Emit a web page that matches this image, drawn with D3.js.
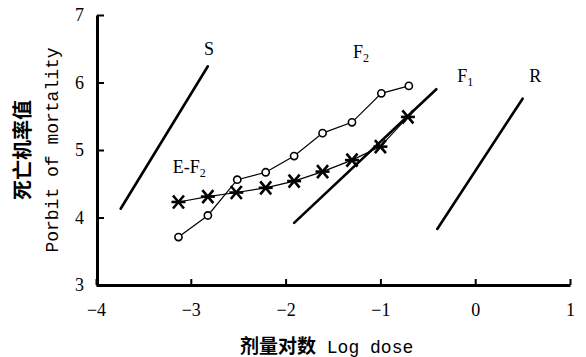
<!DOCTYPE html>
<html><head><meta charset="utf-8">
<script src="https://cdn.jsdelivr.net/npm/d3@7"></script>
<style>body{margin:0;background:#fff}svg{display:block}</style>
</head><body><svg id="c" width="586" height="357"></svg>
<script>
// Data
const xTicks = [-4, -3, -2, -1, 0, 1];
const yTicks = [3, 4, 5, 6, 7];
const circleX = [-3.13, -2.82, -2.51, -2.21, -1.91, -1.61, -1.30, -0.99, -0.70];
const circleY = [3.71, 4.03, 4.56, 4.67, 4.91, 5.25, 5.41, 5.84, 5.95];
const starX = [-3.13, -2.82, -2.52, -2.21, -1.91, -1.61, -1.30, -1.00, -0.71];
const starY = [4.23, 4.31, 4.37, 4.44, 4.54, 4.68, 4.85, 5.05, 5.49];
const lineNames = ["S", "F1", "R"];
const lineX0 = [-3.74, -1.91, -0.40];
const lineY0 = [4.13, 3.92, 3.83];
const lineX1 = [-2.82, -0.41, 0.50];
const lineY1 = [6.24, 5.90, 5.76];
const labelText = ["S", "F", "F", "R", "E-F"];
const labelSub = ["", "2", "1", "", "2"];
const labelX = [-2.86, -1.29, -0.19, 0.57, -3.19];
const labelY = [6.41, 6.36, 6.01, 6.01, 4.66];

const svg = d3.select("#c");
const x = d3.scaleLinear().domain([-4, 1]).range([96, 570]);
const y = d3.scaleLinear().domain([3, 7]).range([285, 15]);

// Axes
const gx = svg.append("g").attr("transform", "translate(0,285)")
  .call(d3.axisBottom(x).tickValues(xTicks).tickSizeInner(-6).tickSizeOuter(0).tickPadding(18)
    .tickFormat(d => d < 0 ? "\u2212" + Math.abs(d) : d));
const gy = svg.append("g").attr("transform", "translate(97,0)")
  .call(d3.axisLeft(y).tickValues(yTicks).tickSizeInner(-7).tickSizeOuter(0).tickPadding(13)
    .tickFormat(d3.format("d")));
[gx, gy].forEach(g => {
  g.select(".domain").attr("stroke", "#000").attr("stroke-width", 3);
  g.selectAll(".tick line").attr("stroke", "#000").attr("stroke-width", 2);
  g.selectAll(".tick text").attr("fill", "#000")
    .style("font-family", "'Liberation Serif', 'DejaVu Serif', serif").style("font-size", "18px");
});

// Regression lines
lineNames.forEach((n, i) => {
  svg.append("line")
    .attr("x1", x(lineX0[i])).attr("y1", y(lineY0[i]))
    .attr("x2", x(lineX1[i])).attr("y2", y(lineY1[i]))
    .attr("stroke", "#000").attr("stroke-width", 2.6).attr("stroke-linecap", "round");
});

// Connected series
const lineGen = (xs, ys) => d3.line()(xs.map((v, i) => [x(v), y(ys[i])]));
svg.append("path").attr("d", lineGen(starX, starY)).attr("fill", "none").attr("stroke", "#000").attr("stroke-width", 1.2);
svg.append("path").attr("d", lineGen(circleX, circleY)).attr("fill", "none").attr("stroke", "#000").attr("stroke-width", 1.2);

// Stars
starX.forEach((v, i) => {
  const g = svg.append("g").attr("transform", `translate(${x(v)},${y(starY[i])})`);
  [[-7, 0, 7, 0], [-5.5, -6.5, 5.5, 6.5], [-5.5, 6.5, 5.5, -6.5]].forEach(s =>
    g.append("line").attr("x1", s[0]).attr("y1", s[1]).attr("x2", s[2]).attr("y2", s[3])
      .attr("stroke", "#000").attr("stroke-width", 2.6));
});
// Circles
svg.selectAll("circle.o").data(circleX).join("circle").attr("class", "o")
  .attr("cx", d => x(d)).attr("cy", (d, i) => y(circleY[i])).attr("r", 3.6)
  .attr("fill", "#fff").attr("stroke", "#000").attr("stroke-width", 1.6);

// Labels
labelText.forEach((t, i) => {
  const tx = svg.append("text").attr("x", x(labelX[i])).attr("y", y(labelY[i]))
    .style("font-family", "'Liberation Serif', 'DejaVu Serif', serif").style("font-size", "18px").attr("fill", "#000").text(t);
  if (labelSub[i]) tx.append("tspan").attr("dy", 4).style("font-size", "12px").text(labelSub[i]);
});

// Axis titles
const yt = svg.append("g").attr("transform", "translate(0,150) rotate(-90)");
yt.append("text").attr("x", 0).attr("y", 30).attr("text-anchor", "middle")
  .style("font-family", "'Noto Sans CJK SC', sans-serif").style("font-weight", "bold").style("font-size", "20px")
  .text("死亡机率值");
yt.append("text").attr("x", 0).attr("y", 58).attr("text-anchor", "middle")
  .style("font-family", "'Liberation Mono', 'DejaVu Sans Mono', monospace").style("font-size", "18px")
  .text("Porbit of mortality");

const xt = svg.append("text").attr("x", 240).attr("y", 353);
xt.append("tspan").style("font-family", "'Noto Sans CJK SC', sans-serif").style("font-weight", "bold").style("font-size", "19px").text("剂量对数");
xt.append("tspan").style("font-family", "'Liberation Mono', 'DejaVu Sans Mono', monospace").style("font-size", "18px").text(" Log dose");
</script></body></html>
